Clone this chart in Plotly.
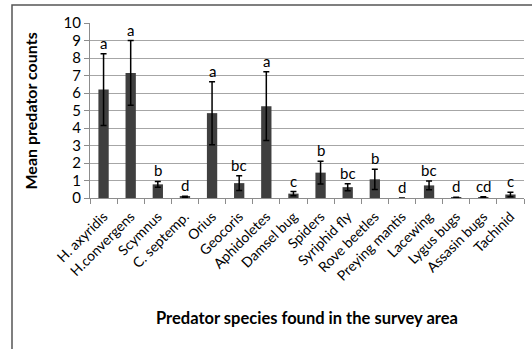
import plotly.graph_objects as go

# Predator survey: mean counts per species with standard errors and significance letters
species = ["H. axyridis", "H.convergens", "Scymnus", "C. septemp.", "Orius", "Geocoris",
           "Aphidoletes", "Damsel bug", "Spiders", "Syriphid fly", "Rove beetles",
           "Preying mantis", "Lacewing", "Lygus bugs", "Assasin bugs", "Tachinid"]
mean_counts = [6.2, 7.15, 0.78, 0.07, 4.85, 0.85, 5.25, 0.25, 1.45, 0.62, 1.07,
               0.0, 0.72, 0.03, 0.05, 0.2]
std_err = [2.05, 1.85, 0.17, 0.03, 1.8, 0.42, 1.97, 0.12, 0.65, 0.2, 0.58,
           0.0, 0.25, 0.01, 0.02, 0.13]
sig_letters = ["a", "a", "b", "d", "a", "bc", "a", "c", "b", "bc", "b",
               "d", "bc", "d", "cd", "c"]

FONT = "Lato"
W, H = 532, 349
ML, MR, MT, MB = 90, 8, 23, 151
plot_w = W - ML - MR
plot_h = H - MT - MB

fig = go.Figure()
fig.add_trace(go.Bar(
    x=species, y=mean_counts,
    marker=dict(color="#3f3f3f", line=dict(width=0)),
    width=0.38,
    error_y=dict(type="data", array=std_err, visible=True,
                 color="black", thickness=1.5, width=3),
    showlegend=False,
))

# significance letters above each error bar
for sp, m, e, lab in zip(species, mean_counts, std_err, sig_letters):
    fig.add_annotation(x=sp, y=m + e, text=lab, showarrow=False,
                       yanchor="bottom", yshift=0,
                       font=dict(family=FONT, size=15, color="black"))

# axis titles
fig.add_annotation(xref="paper", yref="paper", x=0.5, y=-(318 - (MT + plot_h)) / plot_h,
                   text="<b>Predator species found in the survey area</b>",
                   showarrow=False, xanchor="center", yanchor="middle",
                   font=dict(family=FONT, size=16.5, color="black"))
fig.add_annotation(xref="paper", yref="paper", x=(30 - ML) / plot_w, y=0.5,
                   text="<b>Mean predator counts</b>", textangle=-90,
                   showarrow=False, xanchor="center", yanchor="middle",
                   font=dict(family=FONT, size=16, color="black"))

# chart frame
fig.add_shape(type="rect", xref="paper", yref="paper",
              x0=(12 - ML) / plot_w, x1=1.2,
              y0=-1.2, y1=(MT + plot_h - 5) / plot_h,
              line=dict(color="#555555", width=1.5), layer="below")

fig.update_layout(
    width=W, height=H,
    margin=dict(l=ML, r=MR, t=MT, b=MB),
    paper_bgcolor="white", plot_bgcolor="white",
    bargap=0.6,
    font=dict(family=FONT, size=13, color="black"),
    xaxis=dict(
        tickangle=-45, showgrid=False, showline=True, linecolor="#8c8c8c",
        linewidth=1, ticks="outside", ticklen=5, tickcolor="#8c8c8c",
        tickson="boundaries", tickfont=dict(family=FONT, size=14, color="black"),
        ticklabelstandoff=4,
        range=[-0.5, len(species) - 0.5],
    ),
    yaxis=dict(
        range=[0, 10], dtick=1, showgrid=True, gridcolor="#a6a6a6", gridwidth=1,
        showline=True, linecolor="#8c8c8c", linewidth=1, ticks="outside",
        ticklen=5, tickcolor="#8c8c8c", zeroline=False,
        tickfont=dict(family=FONT, size=15, color="black"),
    ),
)

fig.write_html("out.html")
